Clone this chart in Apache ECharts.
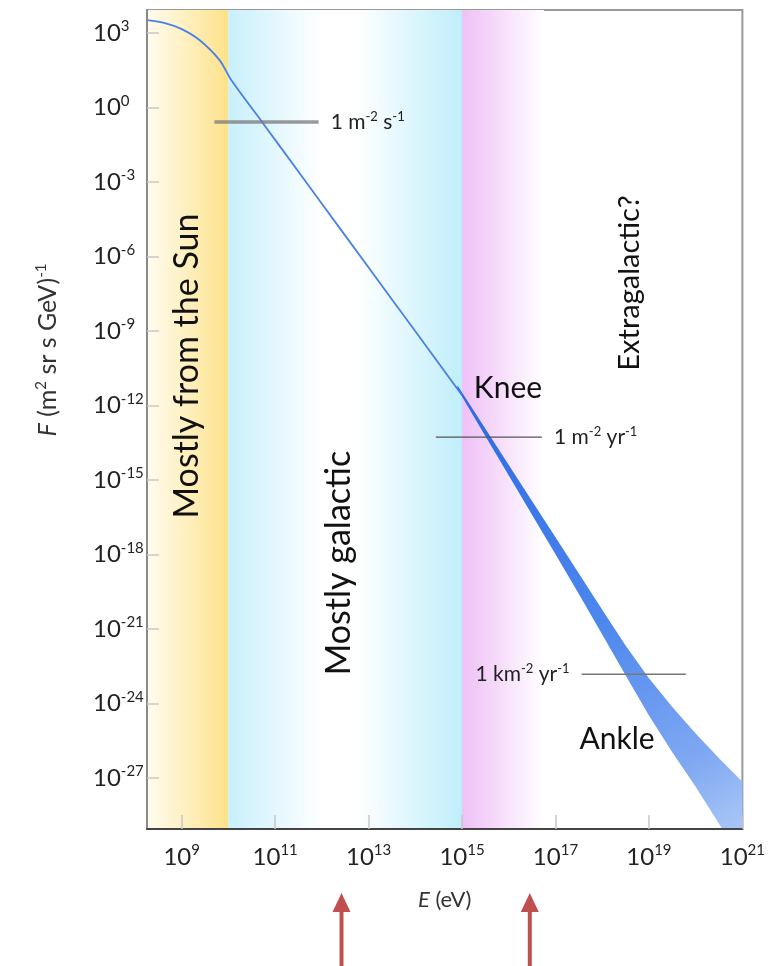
<!DOCTYPE html>
<html>
<head>
<meta charset="utf-8">
<title>Cosmic ray spectrum</title>
<script src="https://cdn.jsdelivr.net/npm/echarts@6/dist/echarts.min.js"></script>
<style>
  html, body { margin: 0; padding: 0; background: #fff; }
  #chart { width: 768px; height: 966px; }
</style>
</head>
<body>
<div id="chart"></div>
<script>
// every value is a log10: E in eV, F in (m^2 sr s GeV)^-1
var xTicks = [9, 11, 13, 15, 17, 19, 21]
var yTicks = [3, 0, -3, -6, -9, -12, -15, -18, -21, -24, -27]

// energy ranges of the shaded regions
var sunBand = [8.257, 10]
var galacticBand = [10, 15]
var kneeBand = [15, 16.75]

// spectrum below the knee (thin line)
var lineE = [8.26, 8.64, 9.0, 9.38, 9.81, 10.06, 10.72, 11, 12, 13, 14, 15]
var lineF = [3.52, 3.40, 3.16, 2.72, 1.91, 1.11, -0.58, -1.30, -3.87, -6.44, -9.01, -11.58]

// spectrum above the knee, drawn as a band
var bandE = [14.9, 15.5, 16, 16.5, 17, 17.5, 18, 18.5, 19, 19.5, 20, 20.5, 21]
var bandHigh = [-11.18, -12.93, -14.39, -15.85, -17.30, -18.76, -20.22, -21.66, -22.98, -24.14, -25.20, -26.20, -27.15]
var bandLow = [-11.32, -13.23, -14.82, -16.41, -17.99, -19.59, -21.22, -22.86, -24.48, -25.96, -27.35, -28.84, -30.32]

// integral flux levels
var levelLabels = ['{t|1 m}{s|-2}{t| s}{s|-1}', '{t|1 m}{s|-2}{t| yr}{s|-1}', '{t|1 km}{s|-2}{t| yr}{s|-1}']
var levelF = [-0.58, -13.27, -22.82]
var levelFrom = [9.70, 14.44, 17.56]
var levelTo = [11.93, 16.71, 19.79]

// energies marked by the arrows below the axis
var arrowE = [12.42, 16.45]

var font = 'Lato, "Open Sans", sans-serif'
var chart = echarts.init(document.getElementById('chart'))

function powLabel(v) {
  return '{b|10}{s|' + v + '}'
}

var powRich = {
  b: { fontFamily: font, fontSize: 24, color: '#222', lineHeight: 28 },
  s: { fontFamily: font, fontSize: 15, color: '#222', lineHeight: 15, verticalAlign: 'top' }
}

var levelRich = {
  t: { fontFamily: font, fontSize: 21, color: '#222', lineHeight: 24 },
  s: { fontFamily: font, fontSize: 13, color: '#222', lineHeight: 13, verticalAlign: 'top' }
}

function grad(stops) {
  return new echarts.graphic.LinearGradient(0, 0, 1, 0, stops)
}

var levelStyles = [
  { color: 'rgba(120,120,120,0.75)', width: 3.5, pos: 'right' },
  { color: '#555', width: 1.2, pos: 'right' },
  { color: '#777', width: 1.6, pos: 'left' }
]

var levelSeries = levelF.map(function (f, i) {
  var st = levelStyles[i]
  var lbl = { show: true, position: st.pos, distance: 12, formatter: levelLabels[i], rich: levelRich }
  var pts = [{ value: [levelFrom[i], f] }, { value: [levelTo[i], f] }]
  if (st.pos === 'right') pts[1].label = lbl
  else pts[0].label = lbl
  return {
    type: 'line',
    data: pts,
    symbol: 'circle',
    symbolSize: 0.1,
    showSymbol: true,
    lineStyle: { color: st.color, width: st.width },
    itemStyle: { color: st.color },
    z: 4
  }
})

chart.setOption({
  animation: false,
  backgroundColor: '#fff',
  grid: {
    left: 147,
    right: 21,
    top: 10,
    bottom: 137,
    show: true,
    borderColor: '#9a9a9a',
    borderWidth: 2
  },
  xAxis: {
    type: 'value',
    z: 10,
    min: 8.257,
    max: 21,
    name: '{i|E} (eV)',
    nameLocation: 'middle',
    nameGap: 60,
    nameTextStyle: {
      fontFamily: font, fontSize: 22, color: '#333',
      rich: { i: { fontFamily: font, fontSize: 22, fontStyle: 'italic', color: '#333' } }
    },
    axisLine: { onZero: false, lineStyle: { color: '#444', width: 2 } },
    axisTick: { inside: true, length: 14, customValues: xTicks, lineStyle: { color: '#c8c8c8', width: 1.5 } },
    axisLabel: { customValues: xTicks, margin: 14, formatter: powLabel, rich: powRich },
    splitLine: { show: false }
  },
  yAxis: {
    type: 'value',
    z: 10,
    min: -29.05,
    max: 3.93,
    axisLine: { onZero: false, lineStyle: { color: '#8a8a8a', width: 2 } },
    axisTick: { inside: true, length: 12, customValues: yTicks, lineStyle: { color: '#c8c8c8', width: 1.5 } },
    axisLabel: { customValues: yTicks, margin: 54, align: 'left', formatter: powLabel, rich: powRich },
    splitLine: { show: false }
  },
  series: [
    {
      type: 'line',
      data: [],
      silent: true,
      z: 0,
      markArea: {
        silent: true,
        data: [
          [{ xAxis: sunBand[0], itemStyle: { color: grad([{ offset: 0, color: '#fffcf0' }, { offset: 1, color: '#fde28a' }]) } }, { xAxis: sunBand[1] }],
          [{ xAxis: galacticBand[0], itemStyle: { color: grad([{ offset: 0, color: '#c8f0fc' }, { offset: 0.4, color: '#ffffff' }, { offset: 0.55, color: '#ffffff' }, { offset: 1, color: '#bfeefb' }]) } }, { xAxis: galacticBand[1] }],
          [{ xAxis: kneeBand[0], itemStyle: { color: grad([{ offset: 0, color: '#efc0f7' }, { offset: 1, color: '#ffffff' }]) } }, { xAxis: kneeBand[1] }]
        ]
      }
    },
    {
      type: 'line',
      data: lineE.map(function (e, i) { return [e, lineF[i]] }),
      showSymbol: false,
      smooth: 0.3,
      lineStyle: { color: '#4a80e6', width: 1.8 },
      z: 3
    },
    {
      type: 'custom',
      clip: true,
      data: [[bandE[0], bandHigh[0]]],
      z: 3,
      renderItem: function (params, api) {
        var pts = []
        for (var i = 0; i < bandE.length; i++) pts.push(api.coord([bandE[i], bandHigh[i]]))
        for (var j = bandE.length - 1; j >= 0; j--) pts.push(api.coord([bandE[j], bandLow[j]]))
        return {
          type: 'polygon',
          shape: { points: pts },
          style: {
            fill: new echarts.graphic.LinearGradient(0, 0, 1, 1, [
              { offset: 0, color: '#2a68e4' },
              { offset: 0.5, color: '#4d87ee' },
              { offset: 0.8, color: '#7fa8f2' },
              { offset: 1, color: '#b8d0f7' }
            ])
          }
        }
      }
    }
  ].concat(levelSeries)
})

// annotations and arrows
var textStyle = { fontFamily: font, fill: '#111', align: 'center', verticalAlign: 'middle' }
function note(text, x, y, rot, size) {
  return {
    type: 'text', x: x, y: y, rotation: rot, z: 10,
    style: Object.assign({}, textStyle, { text: text, fontSize: size })
  }
}

var graphics = [
  note('Mostly from the Sun', 187, 366, Math.PI / 2, 34),
  note('Mostly galactic', 339, 563, Math.PI / 2, 34),
  note('Extragalactic?', 630, 283, Math.PI / 2, 29),
  note('Knee', 508, 388, 0, 30),
  note('Ankle', 617, 739, 0, 30),
  {
    type: 'text', x: 48, y: 350, rotation: Math.PI / 2, z: 10,
    style: {
      text: '{i|F} (m{s|2} sr s GeV){s|-1}',
      fontFamily: font, fontSize: 25, fill: '#333', align: 'center', verticalAlign: 'middle',
      rich: {
        i: { fontFamily: font, fontSize: 25, fontStyle: 'italic', fill: '#333', lineHeight: 28 },
        s: { fontFamily: font, fontSize: 15, fill: '#333', lineHeight: 15, verticalAlign: 'top' }
      }
    }
  }
]

arrowE.forEach(function (e) {
  var x = chart.convertToPixel({ xAxisIndex: 0 }, e)
  graphics.push({
    type: 'line', z: 10,
    shape: { x1: x, y1: 966, x2: x, y2: 905 },
    style: { stroke: '#c0504d', lineWidth: 4 }
  })
  graphics.push({
    type: 'polygon', z: 10,
    shape: { points: [[x, 893], [x - 9, 912], [x + 9, 912]] },
    style: { fill: '#c0504d' }
  })
})

chart.setOption({ graphic: graphics })
</script>
</body>
</html>
